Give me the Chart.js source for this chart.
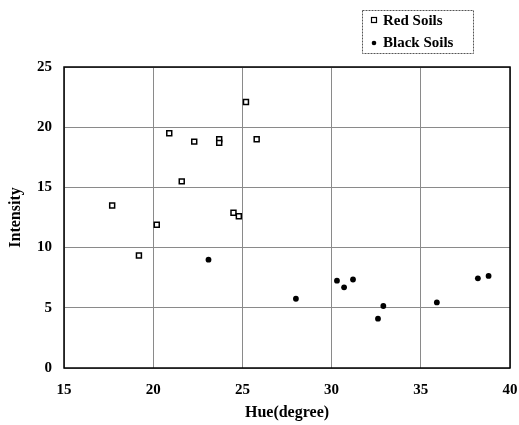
<!DOCTYPE html>
<html>
<head>
<meta charset="utf-8">
<script src="https://cdn.jsdelivr.net/npm/chart.js@4/dist/chart.umd.min.js"></script>
<style>
html,body{margin:0;padding:0;background:#fff;}
#wrap{width:519px;height:425px;}
</style>
</head>
<body>
<div id="wrap"><canvas id="c" width="519" height="425"></canvas></div>
<script>
const redHue = [25.2, 20.9, 22.3, 23.7, 23.7, 25.8, 21.6, 17.7, 24.5, 24.8, 20.2, 19.2];
const redIntensity = [22.1, 19.5, 18.8, 19.0, 18.7, 19.0, 15.5, 13.5, 12.9, 12.6, 11.9, 9.35];
const blackHue = [23.1, 28.0, 30.3, 30.7, 31.2, 32.9, 32.6, 35.9, 38.2, 38.8];
const blackIntensity = [9.0, 5.75, 7.25, 6.7, 7.35, 5.15, 4.1, 5.45, 7.45, 7.65];
const xTicks = [15, 20, 25, 30, 35, 40];
const yTicks = [0, 5, 10, 15, 20, 25];
const seriesNames = ['Red Soils', 'Black Soils'];

const FONT = "'Liberation Serif', 'Times New Roman', serif";

function pts(xs, ys){ return xs.map((x,i)=>({x:x, y:ys[i]})); }

const frame = {
  id:'frame',
  afterDatasetsDraw(chart){
    const {ctx, chartArea:a} = chart;
    ctx.save();
    ctx.strokeStyle='#000';
    ctx.lineWidth=1.5;
    ctx.strokeRect(a.left, a.top, a.right-a.left, a.bottom-a.top);
    ctx.restore();
  }
};

const boxLegend = {
  id:'boxLegend',
  afterDraw(chart){
    const ctx = chart.ctx;
    const x0 = 362, y0 = 10, w = 111, h = 43;
    ctx.save();
    ctx.strokeStyle='#555';
    ctx.lineWidth=1;
    ctx.setLineDash([2,1]);
    ctx.strokeRect(x0+0.5, y0+0.5, w, h);
    ctx.setLineDash([]);
    ctx.font = "bold 15px " + FONT;
    ctx.fillStyle='#000';
    ctx.textBaseline='middle';
    ctx.strokeStyle='#000';
    ctx.lineWidth=1.2;
    ctx.strokeRect(371.5, 17.5, 5, 5);
    ctx.fillText(seriesNames[0], 383, 21);
    ctx.beginPath();
    ctx.arc(374, 43, 2.3, 0, Math.PI*2);
    ctx.fill();
    ctx.fillText(seriesNames[1], 383, 43);
    ctx.restore();
  }
};

new Chart(document.getElementById('c'), {
  type:'scatter',
  data:{
    datasets:[
      {label:seriesNames[0], data:pts(redHue, redIntensity), pointStyle:'rect', pointRadius:3.5, borderColor:'#000', backgroundColor:'#fff', borderWidth:1.5},
      {label:seriesNames[1], data:pts(blackHue, blackIntensity), pointStyle:'circle', pointRadius:2.9, borderColor:'#000', backgroundColor:'#000', borderWidth:0}
    ]
  },
  options:{
    responsive:false,
    animation:false,
    layout:{padding:{top:67, right:9, left:0, bottom:0}},
    plugins:{legend:{display:false}, tooltip:{enabled:false}},
    scales:{
      x:{
        type:'linear', min:15, max:40,
        afterBuildTicks(s){ s.ticks = xTicks.map(v=>({value:v})); },
        afterFit(s){ s.height = 57; s.paddingLeft = 0; s.paddingRight = 0; },
        grid:{color:'#8a8a8a', lineWidth:1, drawTicks:false},
        border:{display:false},
        ticks:{color:'#000', font:{family:FONT, size:15, weight:'bold'}, padding:13},
        title:{display:true, text:'Hue(degree)', color:'#000', font:{family:FONT, size:16, weight:'bold'}, padding:{top:0, bottom:3}}
      },
      y:{
        type:'linear', min:0, max:25,
        afterBuildTicks(s){ s.ticks = yTicks.map(v=>({value:v})); },
        afterFit(s){ s.width = 64; s.paddingTop = 0; s.paddingBottom = 0; },
        grid:{color:'#8a8a8a', lineWidth:1, drawTicks:false},
        border:{display:false},
        ticks:{color:'#000', font:{family:FONT, size:15, weight:'bold'}, padding:12},
        title:{display:true, text:'Intensity', color:'#000', font:{family:FONT, size:16, weight:'bold'}, padding:{top:6, bottom:0}}
      }
    }
  },
  plugins:[frame, boxLegend]
});
</script>
</body>
</html>
